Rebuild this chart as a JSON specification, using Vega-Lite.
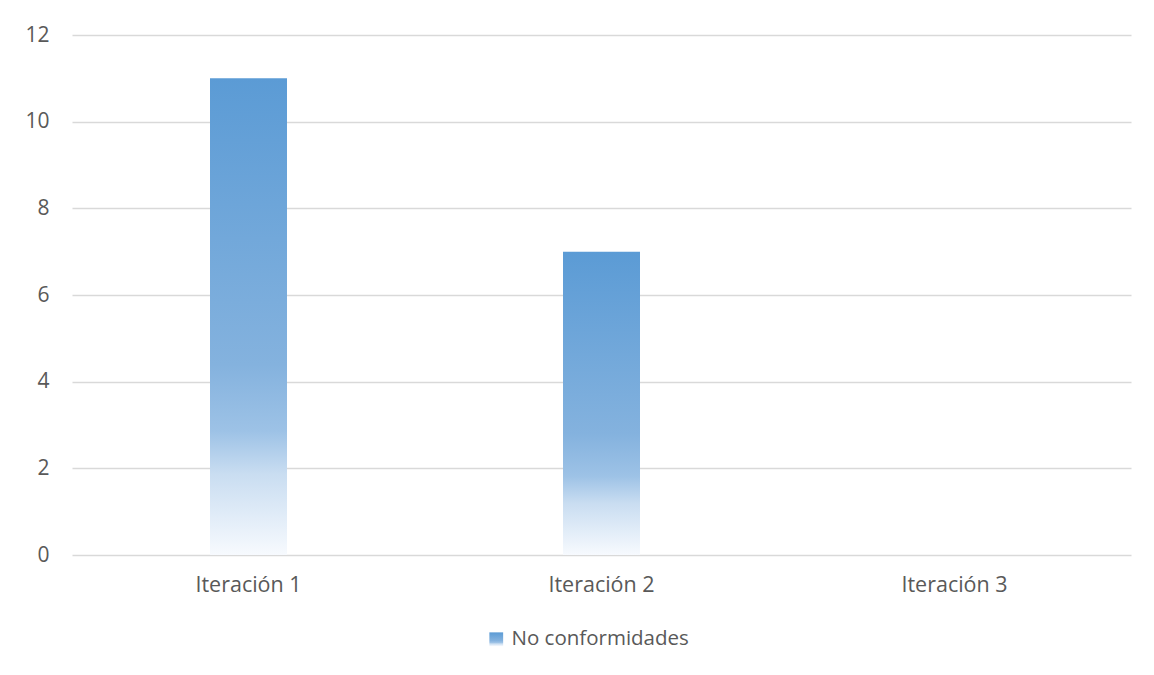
{
  "$schema": "https://vega.github.io/schema/vega-lite/v6.json",
  "autosize": "none",
  "width": 1059,
  "height": 520,
  "padding": {"left": 72, "top": 35, "right": 23, "bottom": 120},
  "background": "white",
  "config": {
    "view": {"stroke": null},
    "font": "Open Sans",
    "axis": {"labelFont": "Open Sans", "labelColor": "#595959", "labelFontSize": 21, "domain": false, "ticks": false, "title": null}
  },
  "data": {"values": [
    {"iteracion": "Iteración 1", "valor": 11, "serie": "No conformidades"},
    {"iteracion": "Iteración 2", "valor": 7, "serie": "No conformidades"},
    {"iteracion": "Iteración 3", "valor": 0, "serie": "No conformidades"}
  ]},
  "mark": {"type": "bar", "width": 77, "color": {"gradient": "linear", "x1": 0, "y1": 0, "x2": 0, "y2": 1, "stops": [
        {"offset": 0, "color": "#5B9BD5"},
        {"offset": 0.6, "color": "#84B2DE"},
        {"offset": 0.74, "color": "#9DC2E6"},
        {"offset": 0.83, "color": "#C9DDF1"},
        {"offset": 1, "color": "#F7FAFE"}
      ]}},
  "encoding": {
    "x": {"field": "iteracion", "type": "nominal", "sort": null,
      "scale": {"paddingInner": 0, "paddingOuter": 0},
      "axis": {"labelAngle": 0, "labelPadding": 19, "labelFontSize": 21.5, "grid": false}},
    "y": {"field": "valor", "type": "quantitative",
      "scale": {"domain": [0, 12], "nice": false},
      "axis": {"values": [0, 2, 4, 6, 8, 10, 12], "gridColor": "#D9D9D9", "gridWidth": 1.3, "labelPadding": 23}},
    "opacity": {"field": "serie", "type": "nominal",
      "scale": {"range": [1]},
      "legend": {"title": null, "orient": "none", "legendX": 414, "legendY": 594, "padding": 0,
        "symbolType": "square", "symbolSize": 190, "symbolStrokeWidth": 0, "labelFontSize": 20.5, "labelLimit": 400, "labelColor": "#595959", "labelFont": "Open Sans", "labelOffset": 5,
        "encode": {"symbols": {"update": {"fill": {"value": {"gradient": "linear", "x1": 0, "y1": 0, "x2": 0, "y2": 1, "stops": [
          {"offset": 0, "color": "#5B9BD5"},
          {"offset": 0.6, "color": "#6FA7DA"},
          {"offset": 1, "color": "#C9DDF1"}
        ]}}, "opacity": {"value": 1}}}}}}
  }
}
